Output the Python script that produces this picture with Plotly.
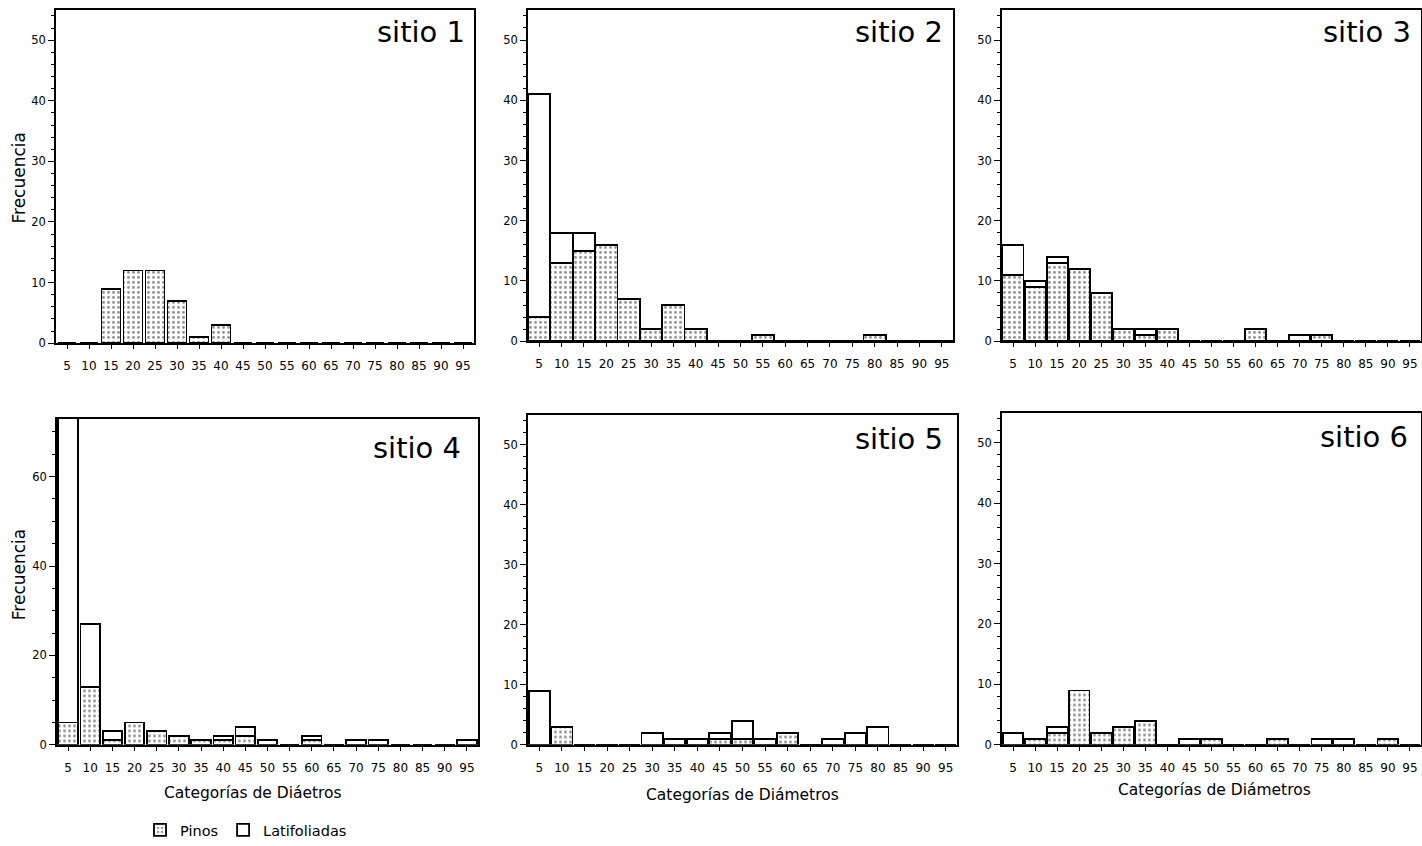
import plotly.graph_objects as go

# ---------------- data ----------------
categorias = [5, 10, 15, 20, 25, 30, 35, 40, 45, 50, 55, 60, 65, 70, 75, 80, 85, 90, 95]
etiquetas_x = ["5", "10", "15", "20", "25", "30", "35", "40", "45", "50",
               "55", "60", "65", "70", "75", "80", "85", "90", "95"]

sitio1_pinos = [0, 0, 9, 12, 12, 7, 1, 3, 0, 0, 0, 0, 0, 0, 0, 0, 0, 0, 0]
sitio1_lat   = [0, 0, 0, 0, 0, 0, 0, 0, 0, 0, 0, 0, 0, 0, 0, 0, 0, 0, 0]

sitio2_pinos = [4, 13, 15, 16, 7, 2, 6, 2, 0, 0, 1, 0, 0, 0, 0, 1, 0, 0, 0]
sitio2_lat   = [37, 5, 3, 0, 0, 0, 0, 0, 0, 0, 0, 0, 0, 0, 0, 0, 0, 0, 0]

sitio3_pinos = [11, 9, 13, 12, 8, 2, 1, 2, 0, 0, 0, 2, 0, 0, 1, 0, 0, 0, 0]
sitio3_lat   = [5, 1, 1, 0, 0, 0, 1, 0, 0, 0, 0, 0, 0, 1, 0, 0, 0, 0, 0]

sitio4_pinos = [5, 13, 1, 5, 3, 2, 1, 1, 2, 0, 0, 1, 0, 0, 0, 0, 0, 0, 0]
sitio4_lat   = [68, 14, 2, 0, 0, 0, 0, 1, 2, 1, 0, 1, 0, 1, 1, 0, 0, 0, 1]

sitio5_pinos = [0, 3, 0, 0, 0, 0, 0, 0, 1, 1, 0, 2, 0, 0, 0, 0, 0, 0, 0]
sitio5_lat   = [9, 0, 0, 0, 0, 2, 1, 1, 1, 3, 1, 0, 0, 1, 2, 3, 0, 0, 0]

sitio6_pinos = [0, 1, 2, 9, 2, 3, 4, 0, 0, 1, 0, 0, 1, 0, 0, 0, 0, 1, 0]
sitio6_lat   = [2, 0, 1, 0, 0, 0, 0, 0, 1, 0, 0, 0, 0, 0, 1, 1, 0, 0, 0]

titulos = ["sitio 1", "sitio 2", "sitio 3", "sitio 4", "sitio 5", "sitio 6"]
titulo_y = "Frecuencia"
titulos_x = ["Categorías de Diáetros", "Categorías de Diámetros", "Categorías de Diámetros"]
nombres_series = ["Pinos", "Latifoliadas"]

sitios = [
    (sitio1_pinos, sitio1_lat),
    (sitio2_pinos, sitio2_lat),
    (sitio3_pinos, sitio3_lat),
    (sitio4_pinos, sitio4_lat),
    (sitio5_pinos, sitio5_lat),
    (sitio6_pinos, sitio6_lat),
]

# ---------------- layout geometry (pixels) ----------------
W, H = 1422, 846
# (left, right, top, bottom) of each plot area
cajas = [
    (56, 474, 10, 346),
    (528, 953, 10, 344),
    (1002, 1421, 10, 344),
    (57, 478, 422, 751),
    (528, 957, 418, 751),
    (1002, 1421, 416, 751),
]
y_max = [55, 55, 55, 73, 55, 55]
anchos = [4.3, 5.0, 4.75, 4.4, 4.7, 4.7]
pos_titulo = [(467, 32), (945, 32), (1413, 32), (463, 452), (945, 443), (1410, 441)]

FONT = "DejaVu Sans"
fig = go.Figure()

patron = dict(shape=".", fgcolor="#2a2a2a", bgcolor="white", size=5, solidity=0.28)

for i, (pinos, lat) in enumerate(sitios):
    ax = "" if i == 0 else str(i + 1)
    fig.add_trace(go.Bar(
        x=categorias, y=pinos, name=nombres_series[0], width=anchos[i],
        marker=dict(color="white", pattern=patron, line=dict(color="black", width=1.8)),
        xaxis="x" + ax, yaxis="y" + ax, showlegend=(i == 0), legendgroup="p",
    ))
    fig.add_trace(go.Bar(
        x=categorias, y=lat, name=nombres_series[1], width=anchos[i],
        marker=dict(color="white", line=dict(color="black", width=1.8)),
        xaxis="x" + ax, yaxis="y" + ax, showlegend=(i == 0), legendgroup="l",
    ))

layout = dict(
    width=W, height=H, margin=dict(l=0, r=0, t=0, b=0),
    paper_bgcolor="white", plot_bgcolor="white",
    barmode="stack", font=dict(family=FONT, color="black"),
    legend=dict(orientation="h", x=140 / W, y=1 - 837 / H, yanchor="middle", xanchor="left",
                font=dict(family=FONT, size=14.5, color="black"), itemwidth=30,
                bgcolor="rgba(0,0,0,0)", traceorder="normal"),
    showlegend=True,
)

for i, (l, r, t, b) in enumerate(cajas):
    sfx = "" if i == 0 else str(i + 1)
    layout["xaxis" + sfx] = dict(
        domain=[l / W, r / W], range=[2.5, 97.5], anchor="y" + sfx,
        tickmode="array", tickvals=categorias, ticktext=etiquetas_x,
        ticks="outside", ticklen=4, tickwidth=1, tickcolor="black",
        ticklabelstandoff=7,
        showline=True, linecolor="black", linewidth=1.8, mirror=True,
        showgrid=False, zeroline=False, fixedrange=True,
        tickfont=dict(family=FONT, size=12, color="black"),
    )
    dt = 20 if y_max[i] > 60 else 10
    md = 5 if y_max[i] > 60 else 2
    layout["yaxis" + sfx] = dict(
        domain=[1 - b / H, 1 - t / H], range=[0, y_max[i]], anchor="x" + sfx,
        dtick=dt, tick0=0, ticks="outside", ticklen=6, tickwidth=1, tickcolor="black",
        minor=dict(dtick=md, ticks="outside", ticklen=3, tickwidth=1, tickcolor="black"),
        showline=True, linecolor="black", linewidth=1.8, mirror=True,
        showgrid=False, zeroline=False, fixedrange=True,
        tickfont=dict(family=FONT, size=11.5, color="black"),
    )

anots = []
for i, (xr, yc) in enumerate(pos_titulo):
    anots.append(dict(text=titulos[i], x=xr / W, y=1 - yc / H, xref="paper", yref="paper",
                      xanchor="right", yanchor="middle", showarrow=False,
                      font=dict(family=FONT, size=29, color="black")))
for yc in (180, 580):
    anots.append(dict(text=titulo_y, x=19 / W, y=1 - yc / H, xref="paper", yref="paper",
                      xanchor="center", yanchor="middle", textangle=-90, showarrow=False,
                      font=dict(family=FONT, size=17, color="black")))
for (xc, yc), txt in zip([(253, 800), (742, 802), (1214, 797)], titulos_x):
    anots.append(dict(text=txt, x=xc / W, y=1 - yc / H, xref="paper", yref="paper",
                      xanchor="center", yanchor="middle", showarrow=False,
                      font=dict(family=FONT, size=15.5, color="black")))
layout["annotations"] = anots

fig.update_layout(**layout)
fig.write_html("out.html")
